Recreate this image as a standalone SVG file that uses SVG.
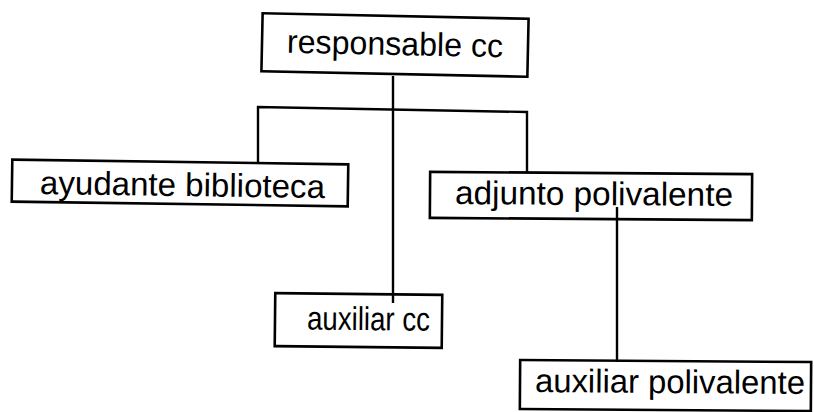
<svg xmlns="http://www.w3.org/2000/svg" width="814" height="412" viewBox="0 0 814 412">
  <style>
    .box { fill: none; stroke: #000000; stroke-width: 2.6; }
    .lbl { font-family: "Liberation Sans", "DejaVu Sans", sans-serif; font-size: 33px; fill: #000000; }
    .wire { fill: none; stroke: #000000; stroke-width: 2.4; }
  </style>
  <rect x="0" y="0" width="814" height="412" fill="#ffffff"/>

  <!-- connectors -->
  <g id="connectors">
    <path class="wire" d="M393,76 L393,303"/>
    <path class="wire" d="M258,163 L258,107 L527,112 L527,173"/>
    <path class="wire" d="M617,207 L617,362"/>
  </g>

  <g id="responsable-cc" transform="rotate(1.2 395 45)">
    <rect class="box" x="262" y="16" width="266" height="58"/>
    <text class="lbl" x="287" y="55" textLength="216" lengthAdjust="spacingAndGlyphs">responsable cc</text>
  </g>

  <g id="ayudante-biblioteca" transform="rotate(0.8 180 183)">
    <rect class="box" x="12" y="162" width="336" height="42"/>
    <text class="lbl" x="40" y="196" textLength="285" lengthAdjust="spacingAndGlyphs">ayudante biblioteca</text>
  </g>

  <g id="adjunto-polivalente" transform="rotate(0.4 591 196)">
    <rect class="box" x="430" y="173" width="322" height="46"/>
    <text class="lbl" x="455" y="205" textLength="278" lengthAdjust="spacingAndGlyphs">adjunto polivalente</text>
  </g>

  <g id="auxiliar-cc" transform="rotate(0.6 358 320)">
    <rect class="box" x="275" y="294" width="167" height="53"/>
    <text class="lbl" x="307" y="330" textLength="123" lengthAdjust="spacingAndGlyphs">auxiliar cc</text>
  </g>

  <g id="auxiliar-polivalente" transform="rotate(0.4 665 385)">
    <rect class="box" x="520" y="361" width="291" height="49"/>
    <text class="lbl" x="535" y="393" textLength="270" lengthAdjust="spacingAndGlyphs">auxiliar polivalente</text>
  </g>
</svg>
